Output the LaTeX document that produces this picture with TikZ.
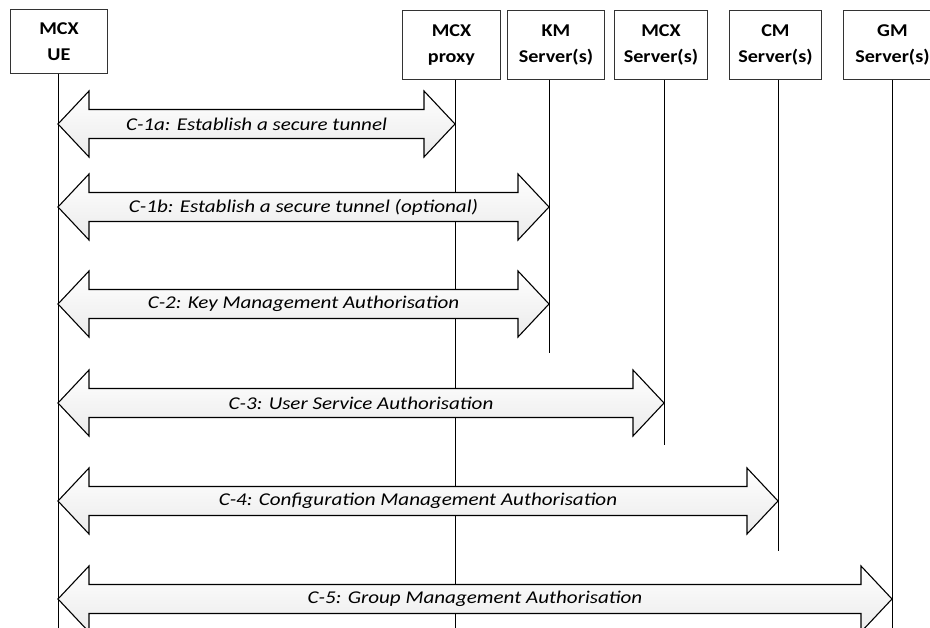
\documentclass[tikz,border=0pt]{standalone}
\usepackage{fontspec}
\setmainfont{Carlito}
\newfontfamily\boxfont[FakeStretch=1.12]{Carlito}
\newfontfamily\msgfont[FakeStretch=1.17]{Carlito}
\begin{document}
\begin{tikzpicture}[x=1pt,y=-1pt]
\tikzset{
  entity/.style={draw=black!80, line width=0.9pt, fill=white, inner sep=0pt,
    align=center, font=\boxfont\fontsize{18}{26}\selectfont\bfseries, anchor=north west},
  lifeline/.style={draw=black, line width=0.8pt},
  msgarrow/.style={draw=black, line width=1.1pt, line join=miter, top color=white, bottom color=black!8},
  msglabel/.style={font=\msgfont\fontsize{18}{22}\selectfont\itshape, inner sep=0pt}
}
\useasboundingbox (0,0) rectangle (930,628);
\clip (0,0) rectangle (930,628);
% entities
\node[entity, minimum width=97pt, minimum height=64pt] (ue) at (10,9) {MCX\\UE};
\node[entity, minimum width=98pt, minimum height=69pt] (proxy) at (402,10) {MCX\\proxy};
\node[entity, minimum width=97pt, minimum height=69pt] (km) at (507,10) {KM\\Server(s)};
\node[entity, minimum width=93pt, minimum height=69pt] (mcx) at (614,10) {MCX\\Server(s)};
\node[entity, minimum width=92pt, minimum height=69pt] (cm) at (729,10) {CM\\Server(s)};
\node[entity, minimum width=98pt, minimum height=69pt] (gm) at (843,10) {GM\\Server(s)};
% lifeline ends
\coordinate (ueE) at (58,628);
\coordinate (proxyE) at (455,628);
\coordinate (kmE) at (549,353);
\coordinate (mcxE) at (664,445);
\coordinate (cmE) at (778,551);
\coordinate (gmE) at (892,628);
\draw[lifeline] (ue.south -| ueE) -- (ueE);
\draw[lifeline] (proxy.south -| proxyE) -- (proxyE);
\draw[lifeline] (km.south -| kmE) -- (kmE);
\draw[lifeline] (mcx.south -| mcxE) -- (mcxE);
\draw[lifeline] (cm.south -| cmE) -- (cmE);
\draw[lifeline] (gm.south -| gmE) -- (gmE);
% double arrows
\newcommand\dblarr[5]{%
  \pgfmathsetmacro\xl{#1}\pgfmathsetmacro\xr{#2}\pgfmathsetmacro\cy{#3}%
  \path[msgarrow] (\xl,\cy) -- (\xl+31,\cy-33) -- (\xl+31,\cy-14.5) -- (\xr-31,\cy-14.5)
    -- (\xr-31,\cy-33) -- (\xr,\cy) -- (\xr-31,\cy+33) -- (\xr-31,\cy+14.5)
    -- (\xl+31,\cy+14.5) -- (\xl+31,\cy+33) -- cycle;
  \node[msglabel] (#5) at ({(\xl+\xr)/2},\cy) {#4};}
\dblarr{58}{455}{124}{C-1a: Establish a secure tunnel}{m1a}
\dblarr{58}{549}{207}{C-1b: Establish a secure tunnel (optional)}{m1b}
\dblarr{58}{549}{304}{C-2: Key Management Authorisation}{m2}
\dblarr{58}{664}{403}{C-3: User Service Authorisation}{m3}
\dblarr{58}{778}{501}{C-4: Configuration Management Authorisation}{m4}
\dblarr{58}{892}{599}{C-5: Group Management Authorisation}{m5}
\end{tikzpicture}
\end{document}
